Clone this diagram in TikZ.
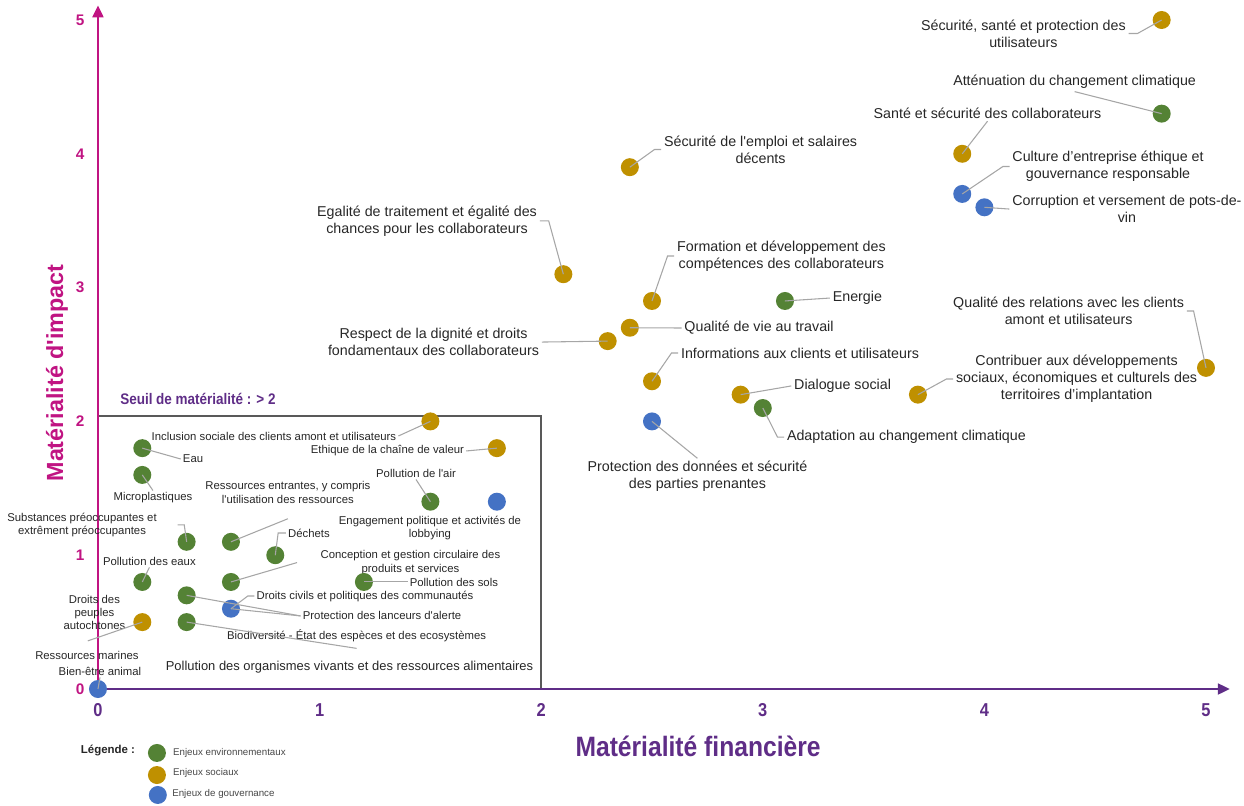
\documentclass[tikz,border=0pt]{standalone}
\usepackage{fontspec}
\setmainfont{Liberation Sans}
\newfontfamily\narrowfont[FakeStretch=0.88]{Liberation Sans}
\usetikzlibrary{arrows.meta}

\definecolor{envgreen}{RGB}{84,130,53}
\definecolor{socgold}{RGB}{191,144,0}
\definecolor{govblue}{RGB}{68,114,196}
\definecolor{impactmag}{RGB}{192,20,130}
\definecolor{finpurple}{RGB}{95,45,135}
\definecolor{boxgray}{RGB}{89,89,89}
\definecolor{leadgray}{RGB}{166,166,166}
\definecolor{txt}{RGB}{38,38,38}

\newcommand{\sq}{\textquotesingle}

\tikzset{
  bubble/.style={circle, inner sep=0pt, minimum size=13.5pt},
  env/.style={bubble, fill=envgreen},
  soc/.style={bubble, fill=socgold},
  gov/.style={bubble, fill=govblue},
  biglabel/.style={font=\fontsize{10.7}{12.8}\selectfont, text=txt, align=center, inner sep=2pt},
  smalllabel/.style={font=\fontsize{8.5}{9.8}\selectfont, text=txt, align=center, inner sep=1.5pt},
  legendtext/.style={font=\fontsize{7.3}{8}\selectfont, text=txt!85, anchor=west, inner sep=0pt},
  leader/.style={draw=leadgray, line width=0.8pt},
  ytick/.style={font=\bfseries\fontsize{11.5}{12}\selectfont, text=impactmag},
  xtick/.style={font=\narrowfont\bfseries\fontsize{14}{15}\selectfont, text=finpurple},
}

\begin{document}
\begin{tikzpicture}[x=166.2pt, y=100.35pt]
  \useasboundingbox (-0.4422,-0.8670) rectangle (5.1715,5.1495);
  \coordinate (origin) at (0,0);

  % seuil de materialite
  \draw[boxgray, line width=1.5pt] (0,2.04) -- (2,2.04) -- (2,0);
  \node[font=\narrowfont\bfseries\fontsize{11.5}{13}\selectfont, text=finpurple] (seuil) at (0.451,2.167) {Seuil de matérialité : > 2};

  % axes
  \draw[impactmag, line width=2pt, -{Triangle[length=9pt,width=8pt]}] (origin) -- (0,5.11);
  \draw[finpurple, line width=2pt, -{Triangle[length=9pt,width=8pt]}] (origin) -- (5.108,0);
  \foreach \i in {0,...,5} {
    \node[ytick] (ytick\i) at (-0.081,\i) {\i};
    \node[xtick] (xtick\i) at (\i,-0.157) {\i};
  }
  \node[font=\bfseries\fontsize{17.5}{20}\selectfont, text=impactmag, rotate=90] (ytitle) at (-0.185,2.362) {Matérialité d\sq impact};
  \node[font=\narrowfont\bfseries\fontsize{21}{24}\selectfont, text=finpurple] (xtitle) at (2.708,-0.43) {Matérialité financière};

  % enjeux materiels
  \node[soc] (secuutil) at (4.8,5) {};
  \node[biglabel] (secuutil-l) at (4.176,4.899) {Sécurité, santé et protection des\\utilisateurs};
  \node[env] (attenuation) at (4.8,4.3) {};
  \node[biglabel] (attenuation-l) at (4.407,4.537) {Atténuation du changement climatique};
  \node[soc] (santecollab) at (3.9,4) {};
  \node[biglabel] (santecollab-l) at (4.014,4.305) {Santé et sécurité des collaborateurs};
  \node[gov] (culture) at (3.9,3.7) {};
  \node[biglabel] (culture-l) at (4.558,3.905) {Culture d’entreprise éthique et\\gouvernance responsable};
  \node[gov] (corruption) at (4.0,3.6) {};
  \node[biglabel] (corruption-l) at (4.643,3.587) {Corruption et versement de pots-de-\\vin};
  \node[soc] (emploi) at (2.4,3.9) {};
  \node[biglabel] (emploi-l) at (2.990,4.032) {Sécurité de l\sq emploi et salaires\\décents};
  \node[soc] (egalite) at (2.1,3.1) {};
  \node[biglabel] (egalite-l) at (1.485,3.498) {Egalité de traitement et égalité des\\chances pour les collaborateurs};
  \node[soc] (formation) at (2.5,2.9) {};
  \node[biglabel] (formation-l) at (3.084,3.236) {Formation et développement des\\compétences des collaborateurs};
  \node[env] (energie) at (3.1,2.9) {};
  \node[biglabel] (energie-l) at (3.427,2.922) {Energie};
  \node[soc] (qvt) at (2.4,2.7) {};
  \node[biglabel] (qvt-l) at (2.983,2.698) {Qualité de vie au travail};
  \node[soc] (dignite) at (2.3,2.6) {};
  \node[biglabel] (dignite-l) at (1.514,2.593) {Respect de la dignité et droits\\fondamentaux des collaborateurs};
  \node[soc] (infos) at (2.5,2.3) {};
  \node[biglabel] (infos-l) at (3.168,2.511) {Informations aux clients et utilisateurs};
  \node[gov] (donnees) at (2.5,2.0) {};
  \node[biglabel] (donnees-l) at (2.705,1.588) {Protection des données et sécurité\\des parties prenantes};
  \node[soc] (dialogue) at (2.9,2.2) {};
  \node[biglabel] (dialogue-l) at (3.360,2.265) {Dialogue social};
  \node[env] (adaptation) at (3.0,2.1) {};
  \node[biglabel] (adaptation-l) at (3.648,1.883) {Adaptation au changement climatique};
  \node[soc] (territoires) at (3.7,2.2) {};
  \node[biglabel] (territoires-l) at (4.416,2.317) {Contribuer aux développements\\sociaux, économiques et culturels des\\territoires d’implantation};
  \node[soc] (relations) at (5.0,2.4) {};
  \node[biglabel] (relations-l) at (4.380,2.825) {Qualité des relations avec les clients\\amont et utilisateurs};

  \draw[leader] (secuutil-l.east) -- ++(0.04,0) -- (secuutil.center);
  \draw[leader] (attenuation-l.south) -- (attenuation.center);
  \draw[leader] (santecollab-l.south) -- (santecollab.center);
  \draw[leader] (culture-l.west) -- ++(-0.03,0) -- (culture.center);
  \draw[leader] (corruption-l.west) -- (corruption.center);
  \draw[leader] (emploi-l.west) -- ++(-0.03,0) -- (emploi.center);
  \draw[leader] (egalite-l.east) -- ++(0.04,0) -- (egalite.center);
  \draw[leader] (formation-l.west) -- ++(-0.03,0) -- (formation.center);
  \draw[leader] (energie-l.west) -- (energie.center);
  \draw[leader] (qvt-l.west) -- (qvt.center);
  \draw[leader] (dignite-l.east) -- (dignite.center);
  \draw[leader] (infos-l.west) -- ++(-0.03,0) -- (infos.center);
  \draw[leader] (donnees.center) -- (donnees-l.north);
  \draw[leader] (dialogue-l.west) -- (dialogue.center);
  \draw[leader] (adaptation-l.west) -- ++(-0.03,0) -- (adaptation.center);
  \draw[leader] (territoires-l.west) -- ++(-0.03,0) -- (territoires.center);
  \draw[leader] (relations-l.east) -- ++(0.03,0) -- (relations.center);

  % sous le seuil
  \node[soc] (inclusion) at (1.5,2.0) {};
  \node[smalllabel] (inclusion-l) at (0.794,1.891) {Inclusion sociale des clients amont et utilisateurs};
  \node[soc] (ethique) at (1.8,1.8) {};
  \node[smalllabel] (ethique-l) at (1.306,1.779) {Ethique de la chaîne de valeur};
  \node[env] (eau) at (0.2,1.8) {};
  \node[smalllabel] (eau-l) at (0.429,1.719) {Eau};
  \node[env] (micro) at (0.2,1.6) {};
  \node[smalllabel] (micro-l) at (0.248,1.427) {Microplastiques};
  \node[env] (air) at (1.5,1.4) {};
  \node[smalllabel] (air-l) at (1.435,1.614) {Pollution de l\sq air};
  \node[gov] (lobbying) at (1.8,1.4) {};
  \node[smalllabel] (lobbying-l) at (1.498,1.2) {Engagement politique et activités de\\lobbying};
  \node[env] (substances) at (0.4,1.1) {};
  \node[smalllabel] (substances-l) at (-0.072,1.226) {Substances préoccupantes et\\extrêment préoccupantes};
  \node[env] (ressources) at (0.6,1.1) {};
  \node[smalllabel] (ressources-l) at (0.857,1.469) {Ressources entrantes, y compris\\l\sq utilisation des ressources};
  \node[env] (dechets) at (0.8,1.0) {};
  \node[smalllabel] (dechets-l) at (0.952,1.166) {Déchets};
  \node[env] (eaux) at (0.2,0.8) {};
  \node[smalllabel] (eaux-l) at (0.232,0.957) {Pollution des eaux};
  \node[env] (circulaire) at (0.6,0.8) {};
  \node[smalllabel] (circulaire-l) at (1.410,0.945) {Conception et gestion circulaire des\\produits et services};
  \node[env] (sols) at (1.2,0.8) {};
  \node[smalllabel] (sols-l) at (1.606,0.8) {Pollution des sols};
  \node[env] (civils) at (0.4,0.7) {};
  \node[gov] (lanceurs) at (0.6,0.6) {};
  \node[smalllabel] (civils-l) at (1.205,0.695) {Droits civils et politiques des communautés};
  \node[smalllabel] (lanceurs-l) at (1.282,0.546) {Protection des lanceurs d\sq alerte};
  \node[env] (biodiv) at (0.4,0.5) {};
  \node[smalllabel] (biodiv-l) at (1.167,0.396) {Biodiversité - État des espèces et des ecosystèmes};
  \node[soc] (autochtones) at (0.2,0.5) {};
  \node[smalllabel] (autochtones-l) at (-0.016,0.575) {Droits des\\peuples\\autochtones};
  \node[smalllabel] (marines-l) at (-0.050,0.254) {Ressources marines};
  \node[smalllabel] (animal-l) at (0.009,0.135) {Bien-être animal};
  \node[gov] (animal) at (origin) {};
  \node[smalllabel, font=\fontsize{9.7}{11}\selectfont] (organismes-l) at (1.135,0.164) {Pollution des organismes vivants et des ressources alimentaires};

  \draw[leader] (inclusion-l.east) -- (inclusion.center);
  \draw[leader] (ethique-l.east) -- (ethique.center);
  \draw[leader] (eau-l.west) -- (eau.center);
  \draw[leader] (micro-l.north) -- (micro.center);
  \draw[leader] (air-l.south) -- (air.center);
  \draw[leader] ([xshift=14pt]substances-l.east) -- ++(0.03,0) -- (substances.center);
  \draw[leader] ([yshift=-10pt]ressources-l.south) -- (ressources.center);
  \draw[leader] (dechets-l.west) -- ++(-0.035,0) -- (dechets.center);
  \draw[leader] (eaux-l.south) -- (eaux.center);
  \draw[leader] ([xshift=-16pt]circulaire-l.west) -- (circulaire.center);
  \draw[leader] (sols-l.west) -- (sols.center);
  \draw[leader] (civils-l.west) -- ++(-0.03,0) -- (lanceurs.center);
  \draw[leader] (lanceurs-l.west) -- (civils.center);
  \draw[leader] (lanceurs-l.west) -- (lanceurs.center);
  \draw[leader] (biodiv.center) -- ([yshift=-3pt]biodiv-l.south);
  \draw[leader] (autochtones.center) -- ([xshift=-5pt,yshift=-7pt]autochtones-l.south);
  \draw[leader] (animal-l.south) -- (animal.center);

  % legende
  \node[font=\bfseries\fontsize{8.6}{10}\selectfont, text=txt] (legende) at (0.045,-0.463) {Légende :};
  \node[env] (leg-env) at (0.266,-0.478) {};
  \node[soc] (leg-soc) at (0.266,-0.643) {};
  \node[gov] (leg-gov) at (0.270,-0.792) {};
  \node[legendtext] (leg-env-l) at (0.338,-0.478) {Enjeux environnementaux};
  \node[legendtext] (leg-soc-l) at (0.338,-0.628) {Enjeux sociaux};
  \node[legendtext] (leg-gov-l) at (0.334,-0.785) {Enjeux de gouvernance};
\end{tikzpicture}
\end{document}
